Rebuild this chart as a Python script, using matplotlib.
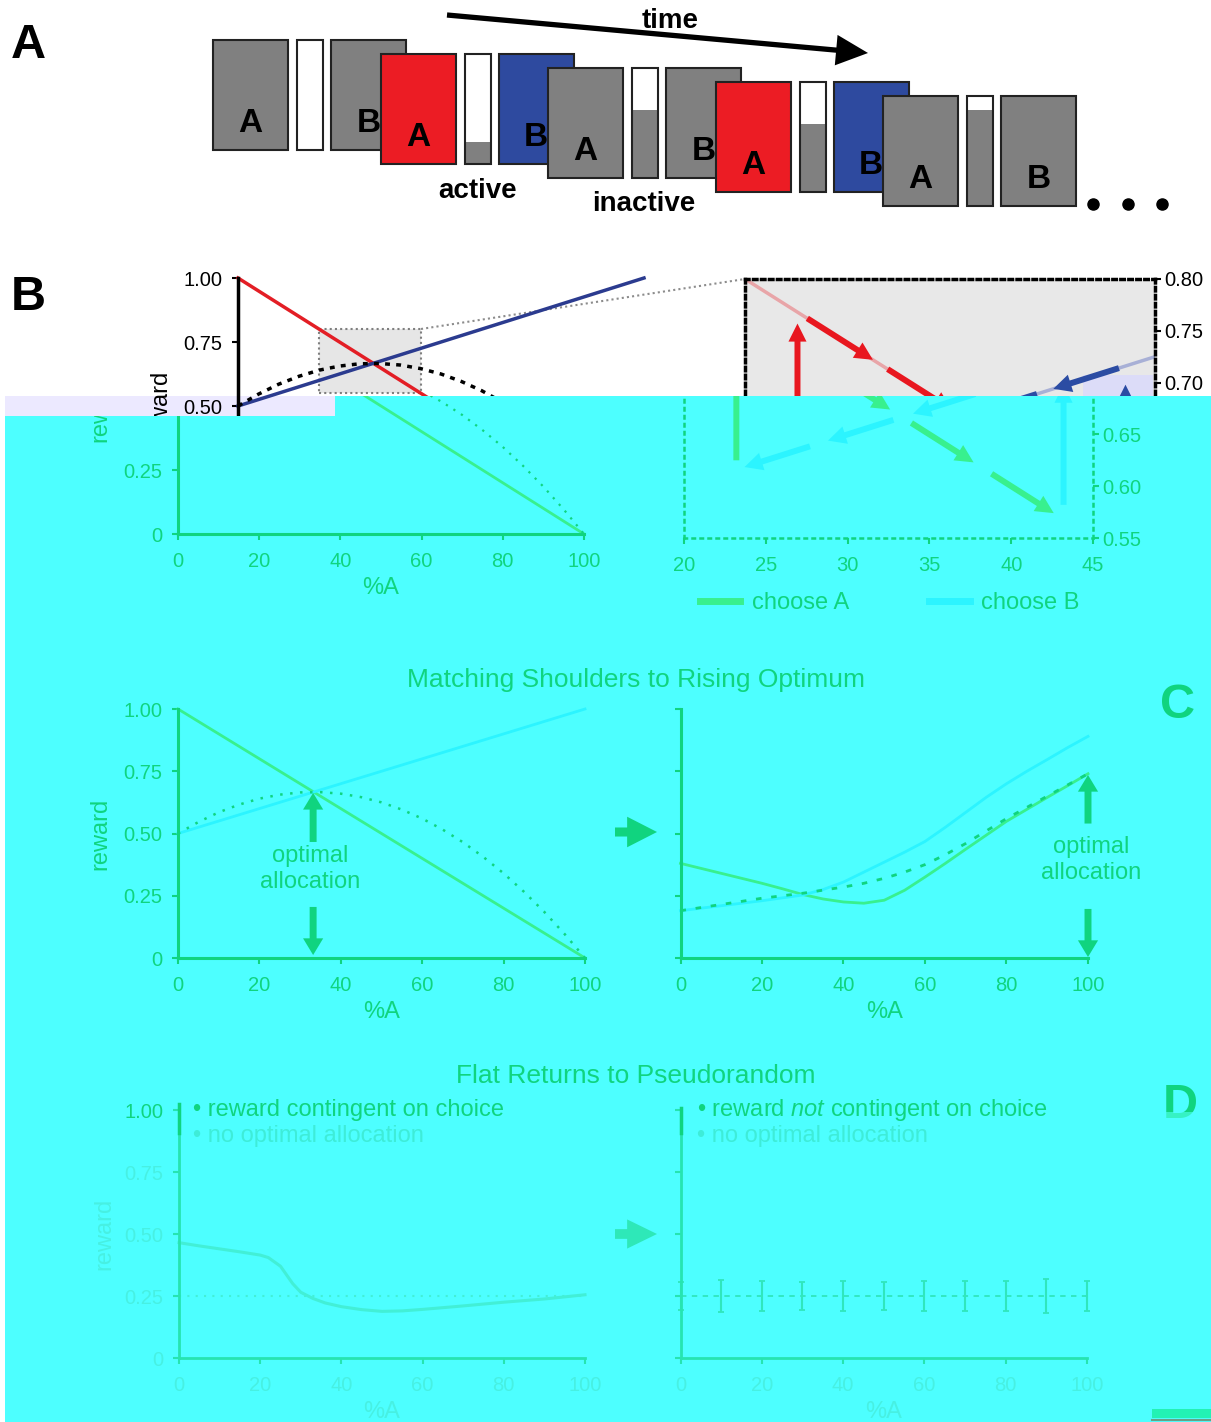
import numpy as np
import matplotlib
matplotlib.use('Agg')
import matplotlib.pyplot as plt
from matplotlib.patches import Rectangle, Polygon, FancyArrowPatch
from matplotlib.lines import Line2D
from matplotlib.transforms import Bbox, TransformedBbox

plt.rcParams['font.family'] = ['Liberation Sans', 'DejaVu Sans']
plt.rcParams['mathtext.fontset'] = 'custom'
plt.rcParams['mathtext.rm'] = 'Liberation Sans'
plt.rcParams['mathtext.it'] = 'Liberation Sans:italic'

W, H = 1211, 1422

# ============================================================
# DATOS
# ============================================================
# A: secuencia de ensayos (color de la caja A / caja B, nivel de la barra)
fila_A = ['#808080', '#ec1c24', '#808080', '#ec1c24', '#808080']
fila_B = ['#808080', '#2e4a9f', '#808080', '#2e4a9f', '#808080']
nivel = [0.0, 0.20, 0.62, 0.62, 0.87]

# B y C izquierda: recompensa vs %A
pct = [0, 100]
rew_A = [1.0, 0.0]
rew_B = [0.5, 1.0]
pct_tot = [0, 5, 10, 15, 20, 25, 30, 35, 40, 45, 50, 55, 60, 65, 70, 75, 80, 85, 90, 95, 100]
rew_tot = [0.50, 0.546, 0.585, 0.616, 0.64, 0.656, 0.665, 0.666, 0.66, 0.646, 0.625,
           0.596, 0.56, 0.516, 0.465, 0.406, 0.34, 0.266, 0.185, 0.096, 0.0]

# B derecha: trayectoria (x0, y0, x1, y1)
tray_A = [(23.8, 0.762, 27.8, 0.722), (28.7, 0.713, 32.6, 0.674),
          (33.9, 0.661, 37.7, 0.623), (38.8, 0.612, 42.6, 0.574)]
tray_B = [(42.8, 0.714, 38.8, 0.694), (37.8, 0.689, 34.0, 0.670),
          (32.8, 0.664, 28.8, 0.644), (27.7, 0.6385, 23.7, 0.6185)]
sube_A = (23.2, 0.625, 0.757)
sube_B = (43.2, 0.582, 0.698)

# C derecha
xC_A = [0, 5, 10, 15, 20, 25, 30, 35, 40, 45, 50, 55, 60, 65, 70, 75, 80, 85, 90, 95, 100]
rC_A = [0.38, 0.36, 0.34, 0.32, 0.30, 0.278, 0.255, 0.237, 0.225, 0.22, 0.232, 0.272,
        0.325, 0.38, 0.437, 0.493, 0.549, 0.597, 0.645, 0.692, 0.74]
xC_B = [0, 10, 20, 30, 35, 40, 45, 50, 55, 60, 65, 70, 75, 80, 85, 90, 95, 100]
rC_B = [0.19, 0.21, 0.23, 0.253, 0.275, 0.305, 0.345, 0.385, 0.425, 0.468, 0.525,
        0.585, 0.645, 0.70, 0.75, 0.797, 0.845, 0.89]
xC_tot = [0, 10, 20, 30, 40, 45, 50, 55, 60, 65, 70, 75, 80, 90, 100]
rC_tot = [0.19, 0.215, 0.24, 0.26, 0.285, 0.30, 0.32, 0.345, 0.375, 0.415, 0.46,
          0.51, 0.56, 0.65, 0.74]

# D
xD_A = [0, 5, 10, 15, 20, 22, 25, 28, 30, 33, 36, 40, 45, 50, 55, 60, 70, 80, 90, 100]
rD_A = [0.465, 0.452, 0.44, 0.428, 0.415, 0.405, 0.37, 0.30, 0.265, 0.24, 0.222,
        0.207, 0.195, 0.188, 0.19, 0.196, 0.21, 0.225, 0.238, 0.255]
xD = [0, 10, 20, 30, 40, 50, 60, 70, 80, 90, 100]
rD_media = [0.25] * 11
rD_err = [0.055, 0.065, 0.06, 0.055, 0.06, 0.055, 0.06, 0.06, 0.06, 0.07, 0.06]

# colores
ROJO, AZUL = '#e31e25', '#2b3b8f'
CIAN = '#4dffff'
TINTA = '#10d47f'
VERDE_A = '#38f08e'
CIAN_B = '#2cf4ff'
TENUE = '#3eecd8'
TENUE2 = '#47f0e2'
LINEA_D = '#26e4b0'
CURVA_D = '#42efd6'

fig = plt.figure(figsize=(W / 100, H / 100), dpi=100)


def lienzo(z):
    ax = fig.add_axes([0, 0, 1, 1], zorder=z)
    ax.set_xlim(0, W)
    ax.set_ylim(H, 0)
    ax.set_axis_off()
    return ax


def eje(x0, x1, y0, y1, z):
    ax = fig.add_axes([x0 / W, 1 - y1 / H, (x1 - x0) / W, (y1 - y0) / H], zorder=z)
    ax.patch.set_visible(False)
    return ax


def flecha(ax, p0, p1, color, cola, ancho, largo):
    estilo = f'simple,head_length={largo},head_width={ancho},tail_width={cola}'
    ax.add_patch(FancyArrowPatch(p0, p1, arrowstyle=estilo, mutation_scale=1, clip_on=False,
                                 color=color, lw=0, shrinkA=0, shrinkB=0, zorder=3))


def ejes_reward(ax, col, lw, etiq_col, yt, ylab, x_ax, alto, ylabel_dx=None,
                xlab=True, lab_col=None):
    ax.set_xlim(0, 100)
    ax.set_ylim(0, 1)
    for s in ('top', 'right'):
        ax.spines[s].set_visible(False)
    for s in ('left', 'bottom'):
        ax.spines[s].set_color(col)
        ax.spines[s].set_linewidth(lw)
    ax.set_yticks(yt, ylab)
    xt = list(range(0, 101, 20))
    ax.set_xticks(xt, [str(v) for v in xt] if xlab else [''] * len(xt))
    ax.tick_params(direction='out', length=4, width=1.5, color=col,
                   labelcolor=etiq_col, labelsize=14.5)
    ax.tick_params(axis='x', pad=9)
    ax.tick_params(axis='y', pad=7)
    if xlab:
        ax.set_xlabel('%A', fontsize=17, color=lab_col or etiq_col)
        ax.xaxis.set_label_coords(0.5, -54 / alto)
        ax.xaxis.label.set_va('center')
    if ylabel_dx is not None:
        ax.set_ylabel('reward', fontsize=17, color=lab_col or etiq_col)
        ax.yaxis.set_label_coords(-ylabel_dx / x_ax, 0.5)
        ax.yaxis.label.set_va('center')


fondo = lienzo(0)
frente = lienzo(3)

# zona recortada (copia verde desplazada)
corte = Polygon([(5, 416), (335, 416), (335, 396), (W, 396), (W, H), (5, H)],
                closed=True, transform=fondo.transData)


def recortar(ax):
    for art in list(ax.spines.values()) + ax.lines + ax.patches + ax.collections:
        art.set_clip_on(True)
        art.set_clip_box(None)
        art.set_clip_path(corte)


# ============================================================
# PANEL A
# ============================================================
for i in range(len(fila_A)):
    x = 213 + 167.5 * i
    y = 40 + 14 * i
    z = 2 + i
    fondo.add_patch(Rectangle((x, y), 75, 110, fc=fila_A[i], ec='#222222', lw=1.5, zorder=z))
    fondo.text(x + 37.5, y + 83, 'A', fontsize=24, fontweight='bold', ha='center',
               va='center', zorder=z + 0.05)
    fondo.add_patch(Rectangle((x + 84, y), 26, 110, fc='white', ec='none', zorder=z + 0.1))
    fondo.add_patch(Rectangle((x + 84, y + 110 * (1 - nivel[i])), 26, 110 * nivel[i],
                              fc='#808080', ec='none', zorder=z + 0.15))
    fondo.add_patch(Rectangle((x + 84, y), 26, 110, fc='none', ec='#222222', lw=1.5, zorder=z + 0.2))
    fondo.add_patch(Rectangle((x + 118, y), 75, 110, fc=fila_B[i], ec='#222222', lw=1.5, zorder=z + 0.3))
    fondo.text(x + 155.5, y + 83, 'B', fontsize=24, fontweight='bold', ha='center',
               va='center', zorder=z + 0.35)

flecha(fondo, (447, 15), (868, 53), 'black', 3.8, 22, 23)
fondo.text(670, 21, 'time', fontsize=20, fontweight='bold', ha='center', va='center')
fondo.text(478, 191, 'active', fontsize=20, fontweight='bold', ha='center', va='center')
fondo.text(644, 204, 'inactive', fontsize=20, fontweight='bold', ha='center', va='center')
fondo.plot([1093, 1128, 1162], [204, 204, 204], 'o', color='black', ms=8)
fondo.text(28, 45, 'A', fontsize=35, fontweight='bold', ha='center', va='center')
fondo.text(28, 297, 'B', fontsize=35, fontweight='bold', ha='center', va='center')

# franja lavanda y conector del zoom
fondo.add_patch(Rectangle((5, 396), 330, 20, fc='#ecE9ff', ec='none', zorder=0.5))
fondo.plot([421, 745], [329, 279], color='#8c8c8c', lw=1.5, ls=(0, (1, 1.5)))

# ============================================================
# PANEL B (parte original, negro)
# ============================================================
axB = eje(238, 644, 278, 534, 1)
ejes_reward(axB, 'black', 2.5, 'black', [0.5, 0.75, 1.0], ['0.50', '0.75', '1.00'],
            406, 256, ylabel_dx=78, xlab=False)
axB.add_patch(Rectangle((20, 0.55), 25, 0.25, fc='#e6e6e6', ec='#7f7f7f', lw=1.5, ls=(0, (1, 1.5))))
axB.plot(pct, rew_A, color=ROJO, lw=2.5, clip_on=False)
axB.plot(pct, rew_B, color=AZUL, lw=2.5, clip_on=False)
axB.plot(pct_tot, rew_tot, color='black', lw=2.5, ls=(0, (1.4, 1.8)), clip_on=False)

axZ = eje(745, 1155, 279, 538, 1)
axZ.patch.set_visible(True)
axZ.set_facecolor('#e8e8e8')
axZ.set_xlim(20, 45)
axZ.set_ylim(0.55, 0.80)
for s in axZ.spines.values():
    s.set_color('black')
    s.set_linewidth(2.5)
    s.set_linestyle((0, (1, 1.3)))
axZ.yaxis.tick_right()
axZ.set_yticks([0.55, 0.60, 0.65, 0.70, 0.75, 0.80], ['', '', '', '0.70', '0.75', '0.80'])
axZ.set_xticks(range(20, 46, 5), [''] * 6)
axZ.tick_params(direction='out', length=4, width=1.5, labelsize=14.5)
axZ.tick_params(axis='y', pad=3)
axZ.add_patch(Rectangle((1083, 375), 70, 21, fc='#dcdcf8', ec='none', transform=fondo.transData))
axZ.plot([20, 45], [0.80, 0.55], color='#e8a5a8', lw=2.5, zorder=0.9)
axZ.plot([20, 45], [0.60, 0.725], color='#a8b0d6', lw=2.5, zorder=0.9)
flecha(axZ, (sube_A[0], sube_A[1]), (sube_A[0], sube_A[2]), '#e8171f', 4.3, 13, 13)
for x0, y0, x1, y1 in tray_A:
    flecha(axZ, (x0, y0), (x1, y1), '#e8171f', 4.3, 13, 13)
flecha(axZ, (sube_B[0], sube_B[1]), (sube_B[0], sube_B[2]), '#2b4ca3', 4.3, 13, 13)
for x0, y0, x1, y1 in tray_B:
    flecha(axZ, (x0, y0), (x1, y1), '#2b4ca3', 4.3, 13, 13)

# ============================================================
# FONDO CIAN
# ============================================================
fig.add_artist(Polygon([(5, 416), (335, 416), (335, 396), (W, 396), (W, H), (5, H)],
                       closed=True, fc=CIAN, ec='none', transform=fondo.transData, zorder=1.5))

# ============================================================
# PANEL B (copia verde)
# ============================================================
axBg = eje(178, 584, 278, 534, 2)
ejes_reward(axBg, TINTA, 2.2, TINTA, [0, 0.25], ['0', '0.25'], 406, 256, ylabel_dx=78)
axBg.plot(pct, rew_A, color=VERDE_A, lw=2)
axBg.plot(pct, rew_B, color=CIAN_B, lw=2)
axBg.plot(pct_tot, rew_tot, color=TINTA, lw=1.6, ls=(0, (1, 3)))
recortar(axBg)
lab = axBg.yaxis.label
lab.set_clip_on(True)
lab.set_clip_box(TransformedBbox(Bbox([[0, 416], [W, H]]), fondo.transData))

axZg = eje(684, 1093, 279, 538, 2)
axZg.set_xlim(20, 45)
axZg.set_ylim(0.55, 0.80)
for s in axZg.spines.values():
    s.set_color(TINTA)
    s.set_linewidth(1.8)
    s.set_linestyle((0, (1, 2.2)))
axZg.yaxis.tick_right()
axZg.set_yticks([0.55, 0.60, 0.65], ['0.55', '0.60', '0.65'])
axZg.set_xticks(range(20, 46, 5))
axZg.tick_params(direction='out', length=4, width=1.5, color=TINTA, labelcolor=TINTA, labelsize=14.5)
axZg.tick_params(axis='y', pad=3)
axZg.tick_params(axis='x', pad=9)
flecha(axZg, (sube_A[0], sube_A[1]), (sube_A[0], sube_A[2]), VERDE_A, 4.3, 13, 13)
for x0, y0, x1, y1 in tray_A:
    flecha(axZg, (x0, y0), (x1, y1), VERDE_A, 4.3, 13, 13)
flecha(axZg, (sube_B[0], sube_B[1]), (sube_B[0], sube_B[2]), CIAN_B, 4.3, 13, 13)
for x0, y0, x1, y1 in tray_B:
    flecha(axZg, (x0, y0), (x1, y1), CIAN_B, 4.3, 13, 13)
recortar(axZg)
manijas = [Line2D([], [], color=VERDE_A, lw=5), Line2D([], [], color=CIAN_B, lw=5)]
axZg.legend(manijas, ['choose A', 'choose B'], loc='center left', bbox_to_anchor=(700, 603),
            bbox_transform=fondo.transData, ncol=2, frameon=False, fontsize=17,
            handlelength=1.7, handletextpad=0.5, columnspacing=3.4, borderpad=0,
            borderaxespad=0, labelcolor=TINTA)

# ============================================================
# PANEL C
# ============================================================
frente.text(636, 680, 'Matching Shoulders to Rising Optimum', fontsize=19, color=TINTA,
            ha='center', va='center')
axCl = eje(178, 585, 709, 958, 2)
ejes_reward(axCl, TINTA, 2.2, TINTA, [0, 0.25, 0.5, 0.75, 1.0],
            ['0', '0.25', '0.50', '0.75', '1.00'], 407, 249, ylabel_dx=78)
axCl.plot(pct, rew_A, color=VERDE_A, lw=2, clip_on=False)
axCl.plot(pct, rew_B, color=CIAN_B, lw=2, clip_on=False)
axCl.plot(pct_tot, rew_tot, color=TINTA, lw=1.8, ls=(0, (1, 3)), clip_on=False)
flecha(axCl, (33.2, 0.466), (33.2, 0.663), TINTA, 5, 14.5, 12)
flecha(axCl, (33.2, 0.205), (33.2, 0.012), TINTA, 5, 14.5, 12)
frente.text(310, 869, 'optimal\nallocation', fontsize=17, color=TINTA, ha='center',
            va='center', linespacing=1.2)

axCr = eje(680.5, 1088, 709, 958, 2)
ejes_reward(axCr, TINTA, 2.2, TINTA, [0, 0.25, 0.5, 0.75, 1.0], [''] * 5, 407.5, 249)
axCr.plot(xC_A, rC_A, color=VERDE_A, lw=2, clip_on=False)
axCr.plot(xC_B, rC_B, color=CIAN_B, lw=2, clip_on=False)
axCr.plot(xC_tot, rC_tot, color=TINTA, lw=2, ls=(0, (2, 3.5)), clip_on=False)
flecha(axCr, (100, 0.54), (100, 0.735), TINTA, 5, 14.5, 12)
flecha(axCr, (100, 0.197), (100, 0.004), TINTA, 5, 14.5, 12)
frente.text(1091, 860, 'optimal\nallocation', fontsize=17, color=TINTA, ha='center',
            va='center', linespacing=1.2)
flecha(frente, (615, 832), (657, 832), TINTA, 6.5, 22, 21.5)
frente.text(1177, 705, 'C', fontsize=35, fontweight='bold', color=TINTA, ha='center', va='center')

# ============================================================
# PANEL D
# ============================================================
frente.text(636, 1076, 'Flat Returns to Pseudorandom', fontsize=19, color=TINTA,
            ha='center', va='center')
axDl = eje(179, 585, 1110, 1358, 2)
ejes_reward(axDl, LINEA_D, 2, TENUE2, [0, 0.25, 0.5, 0.75, 1.0],
            ['0', '0.25', '0.50', '0.75', '1.00'], 406, 248, ylabel_dx=75)
axDl.get_yticklabels()[-1].set_color(TINTA)
axDl.plot([0, 100], [0.25, 0.25], color=CURVA_D, lw=1.5, ls=(0, (1, 3)))
axDl.plot(xD_A, rD_A, color=CURVA_D, lw=2.2, clip_on=False)
frente.plot([179, 179], [1104, 1133], color=TINTA, lw=2.5)
frente.text(193, 1110, '• reward contingent on choice', fontsize=17, color=TINTA, va='center')
frente.text(193, 1136, '• no optimal allocation', fontsize=17, color=TENUE, va='center')

axDr = eje(680.5, 1087, 1110, 1358, 2)
ejes_reward(axDr, LINEA_D, 2, TENUE2, [0, 0.25, 0.5, 0.75, 1.0], [''] * 5, 406.5, 248)
axDr.plot(xD, rD_media, color='#30e6bc', lw=1.3, ls=(0, (3, 3)), clip_on=False)
axDr.errorbar(xD, rD_media, yerr=rD_err, fmt='none', ecolor='#30e6bc', elinewidth=1.5,
              capsize=2.5, capthick=1.3, clip_on=False)
frente.plot([680.5, 680.5], [1108, 1133], color=TINTA, lw=2.5)
frente.text(697, 1110, r'• reward $\mathit{not}$ contingent on choice', fontsize=17,
            color=TINTA, va='center')
frente.text(697, 1136, '• no optimal allocation', fontsize=17, color=TENUE, va='center')
flecha(frente, (615, 1234), (657, 1234), '#2ee8b8', 7, 21, 21.5)

d1 = frente.text(1180, 1106, 'D', fontsize=35, fontweight='bold', color=TINTA, ha='center', va='center')
d1.set_clip_box(TransformedBbox(Bbox([[1100, 1050], [1211, 1112]]), frente.transData))
d1.set_clip_on(True)
d2 = frente.text(1180, 1106, 'D', fontsize=35, fontweight='bold', color='#36f2c4', ha='center', va='center')
d2.set_clip_box(TransformedBbox(Bbox([[1100, 1112], [1211, 1160]]), frente.transData))
d2.set_clip_on(True)

# artefacto esquina inferior
frente.add_patch(Rectangle((1152, 1409), 59, 9, fc='#22f2b4', ec='none'))
frente.plot([1152, 1211], [1419.5, 1419.5], color='#6a9f86', lw=1.5)

fig.savefig('out.png', dpi=100)
